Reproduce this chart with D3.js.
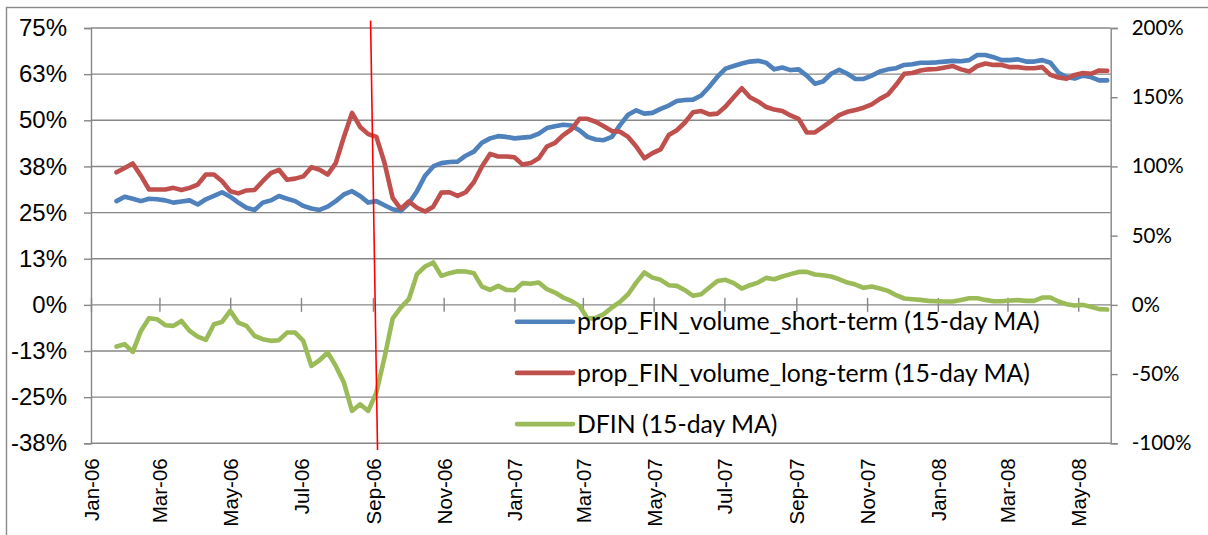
<!DOCTYPE html>
<html><head><meta charset="utf-8">
<script src="https://cdn.jsdelivr.net/npm/d3@7"></script>
<style>body{margin:0;background:#fff} svg{display:block}</style>
</head><body><svg id="chart" width="1208" height="535"></svg>
<script>
const dates = [
"2006-01-23","2006-01-30","2006-02-06","2006-02-13","2006-02-20","2006-02-27","2006-03-06","2006-03-13","2006-03-20","2006-03-27",
"2006-04-03","2006-04-10","2006-04-17","2006-04-24","2006-05-01","2006-05-08","2006-05-15","2006-05-22","2006-05-29","2006-06-05",
"2006-06-12","2006-06-19","2006-06-26","2006-07-03","2006-07-10","2006-07-17","2006-07-24","2006-07-31","2006-08-07","2006-08-14",
"2006-08-21","2006-08-28","2006-09-04","2006-09-11","2006-09-18","2006-09-25","2006-10-02","2006-10-09","2006-10-16","2006-10-23",
"2006-10-30","2006-11-06","2006-11-13","2006-11-20","2006-11-27","2006-12-04","2006-12-11","2006-12-18","2006-12-25","2007-01-01",
"2007-01-08","2007-01-15","2007-01-22","2007-01-29","2007-02-05","2007-02-12","2007-02-19","2007-02-26","2007-03-05","2007-03-12",
"2007-03-19","2007-03-26","2007-04-02","2007-04-09","2007-04-16","2007-04-23","2007-04-30","2007-05-07","2007-05-14","2007-05-21",
"2007-05-28","2007-06-04","2007-06-11","2007-06-18","2007-06-25","2007-07-02","2007-07-09","2007-07-16","2007-07-23","2007-07-30",
"2007-08-06","2007-08-13","2007-08-20","2007-08-27","2007-09-03","2007-09-10","2007-09-17","2007-09-24","2007-10-01","2007-10-08",
"2007-10-15","2007-10-22","2007-10-29","2007-11-05","2007-11-12","2007-11-19","2007-11-26","2007-12-03","2007-12-10","2007-12-17",
"2007-12-24","2007-12-31","2008-01-07","2008-01-14","2008-01-21","2008-01-28","2008-02-04","2008-02-11","2008-02-18","2008-02-25",
"2008-03-03","2008-03-10","2008-03-17","2008-03-24","2008-03-31","2008-04-07","2008-04-14","2008-04-21","2008-04-28","2008-05-05",
"2008-05-12","2008-05-19","2008-05-26"];

// prop_FIN_volume_short-term (15-day MA), % (left axis)
const shortTerm = [
28.1,29.3,28.75,28.1,28.75,28.6,28.3,27.7,28.0,28.3,
27.2,28.6,29.5,30.5,29.3,27.7,26.3,25.7,27.7,28.3,
29.5,28.75,28.1,26.8,26.1,25.7,26.6,28.1,29.9,30.8,
29.5,27.7,28.1,27.0,25.9,25.4,27.5,30.8,35.0,37.5,
38.4,38.7,38.8,40.4,41.5,43.9,45.1,45.7,45.5,45.1,
45.3,45.5,46.4,47.9,48.4,48.8,48.6,47.3,45.5,44.8,
44.6,45.5,48.7,51.5,52.7,51.8,52.0,53.1,54.0,55.2,
55.5,55.6,56.7,59.1,61.8,64.0,64.7,65.4,65.9,66.1,
65.6,63.8,64.3,63.6,63.8,62.1,59.9,60.5,62.6,63.7,
62.6,61.2,61.2,62.1,63.2,63.8,64.1,65.0,65.2,65.6,
65.6,65.7,65.9,66.1,66.0,66.3,67.7,67.7,67.1,66.3,
66.3,66.5,65.9,65.9,66.3,65.6,62.9,61.7,61.3,62.1,
61.7,60.8,60.8];

// prop_FIN_volume_long-term (15-day MA), % (left axis)
const longTerm = [
35.9,37.1,38.3,35.0,31.25,31.25,31.25,31.7,31.1,31.7,
32.6,35.3,35.3,33.5,30.8,30.2,31.0,31.1,33.5,35.7,
36.6,33.9,34.2,34.8,37.3,36.6,35.3,38.4,45.5,52.0,
48.2,46.25,45.5,38.5,29.0,26.0,28.0,26.3,25.3,26.6,
30.4,30.5,29.5,30.5,33.2,37.5,40.9,40.2,40.2,40.0,
38.0,38.4,39.7,42.9,43.9,46.0,47.5,50.4,50.4,49.6,
48.4,47.1,46.9,45.5,42.9,39.7,41.1,42.1,46.0,47.3,
49.4,52.2,52.5,51.6,51.8,53.75,56.25,58.7,56.25,55.1,
53.6,52.9,52.5,51.3,50.4,46.7,46.7,48.2,49.8,51.4,
52.3,52.8,53.4,54.3,55.8,57.0,59.6,62.6,62.8,63.5,
63.8,63.9,64.3,64.7,63.8,63.2,64.7,65.4,65.0,65.0,
64.4,64.4,64.1,64.1,64.4,62.3,61.6,61.25,62.3,62.8,
62.6,63.5,63.4];

// DFIN (15-day MA), % (right axis)
const dfin = [
-30.1,-28.4,-34.0,-18.8,-9.6,-10.4,-14.7,-15.2,-11.6,-18.8,
-22.9,-25.3,-14.0,-12.3,-4.3,-12.8,-15.2,-22.4,-24.8,-26.0,
-25.5,-20.0,-20.0,-26.0,-44.1,-40.0,-34.4,-44.1,-56.1,-76.6,
-71.8,-76.6,-63.3,-38.0,-10.0,-2.0,4.1,22.2,27.7,30.6,
20.9,22.9,24.3,24.1,22.9,13.2,10.8,13.7,10.8,10.6,
15.7,15.2,16.1,11.3,8.9,5.3,2.9,-0.7,-9.9,-9.6,
-6.7,-1.9,2.2,7.7,16.1,23.4,19.7,18.1,14.2,13.7,
10.6,6.5,7.7,12.5,17.3,18.1,15.7,11.8,14.2,16.1,
19.5,18.5,20.5,22.2,23.8,23.8,21.9,21.4,20.5,18.5,
16.1,14.7,12.3,13.2,11.8,10.1,7.0,4.6,4.1,3.6,
2.9,2.6,2.4,2.4,3.6,4.8,4.8,3.6,2.6,2.6,
3.1,3.4,2.9,2.9,5.3,5.3,2.4,0.5,-0.5,0.0,
-1.4,-3.1,-3.4];

const leftTicks = [75, 62.5, 50, 37.5, 25, 12.5, 0, -12.5, -25, -37.5];
const leftTickLabels = ["75%","63%","50%","38%","25%","13%","0%","-13%","-25%","-38%"];
const rightTicks = [200, 150, 100, 50, 0, -50, -100];
const rightTickLabels = ["200%","150%","100%","50%","0%","-50%","-100%"];
const monthTicks = ["2006-01-01","2006-03-01","2006-05-01","2006-07-01","2006-09-01","2006-11-01",
  "2007-01-01","2007-03-01","2007-05-01","2007-07-01","2007-09-01","2007-11-01",
  "2008-01-01","2008-03-01","2008-05-01"];
const monthTickLabels = ["Jan-06","Mar-06","May-06","Jul-06","Sep-06","Nov-06",
  "Jan-07","Mar-07","May-07","Jul-07","Sep-07","Nov-07","Jan-08","Mar-08","May-08"];
const seriesNames = ["prop_FIN_volume_short-term (15-day MA)","prop_FIN_volume_long-term (15-day MA)","DFIN (15-day MA)"];
const seriesColors = ["#4F81BD","#C0504D","#9BBB59"];
// red annotation line (date, left-axis %)
const markerDates = ["2006-08-30","2006-09-05"];
const markerValues = [77, -39.3];
const xDomain = ["2006-01-01","2008-05-29"];
const leftDomain = [-37.5, 75];
const rightDomain = [-100, 200];

const parse = d3.utcParse("%Y-%m-%d");
const svg = d3.select("#chart");
const W = 1208, H = 535;
const plot = {left: 91, right: 1110.7, top: 28, bottom: 443.3};
const gridColor = "#878787";

const x = d3.scaleUtc().domain(xDomain.map(parse)).range([plot.left, plot.right]);
const yL = d3.scaleLinear().domain(leftDomain).range([plot.bottom, plot.top]);
const yR = d3.scaleLinear().domain(rightDomain).range([plot.bottom, plot.top]);

// outer chart frame
svg.append("rect").attr("x", 6.5).attr("y", 7.5).attr("width", W + 10).attr("height", H + 10)
  .attr("fill", "#fff").attr("stroke", "#8a8a8a").attr("stroke-width", 1.4);

// gridlines
svg.append("g").selectAll("line").data(leftTicks).join("line")
  .attr("x1", plot.left).attr("x2", plot.right)
  .attr("y1", d => yL(d)).attr("y2", d => yL(d))
  .attr("stroke", gridColor).attr("stroke-width", 1.4);

// left axis
const gL = svg.append("g").attr("transform", `translate(${plot.left},0)`)
  .call(d3.axisLeft(yL).tickValues(leftTicks).tickSize(7).tickPadding(17)
    .tickFormat((d, i) => leftTickLabels[i]));
gL.select(".domain").attr("stroke", gridColor).attr("stroke-width", 1.4);
gL.selectAll(".tick line").attr("stroke", gridColor).attr("stroke-width", 1.4);
gL.selectAll("text").attr("font-family", "Liberation Sans, Arial, sans-serif").attr("font-size", 24).attr("fill", "#000");

// right axis
const gR = svg.append("g").attr("transform", `translate(${plot.right},0)`)
  .call(d3.axisRight(yR).tickValues(rightTicks).tickSize(7).tickPadding(14)
    .tickFormat((d, i) => rightTickLabels[i]));
gR.select(".domain").attr("stroke", gridColor).attr("stroke-width", 1.4);
gR.selectAll(".tick line").attr("stroke", gridColor).attr("stroke-width", 1.4);
gR.selectAll("text").attr("font-family", "Lato, sans-serif").attr("font-size", 20.5).attr("fill", "#000");

// x tick marks crossing the zero line
const monthDates = monthTicks.map(parse);
const gX = svg.append("g").attr("transform", `translate(0,${yL(0) - 7})`)
  .call(d3.axisBottom(x).tickValues(monthDates).tickSize(14).tickFormat(""));
gX.select(".domain").remove();
gX.selectAll(".tick line").attr("stroke", gridColor).attr("stroke-width", 1.4);

// x tick labels below plot, rotated
const gXL = svg.append("g").attr("transform", `translate(0,${plot.bottom})`)
  .call(d3.axisBottom(x).tickValues(monthDates).tickSize(0)
    .tickFormat((d, i) => monthTickLabels[i]));
gXL.select(".domain").remove();
gXL.selectAll("text")
  .attr("font-family", "Liberation Sans, Arial, sans-serif").attr("font-size", 20.5).attr("fill", "#000")
  .attr("transform", "rotate(-90)").attr("text-anchor", "end")
  .attr("x", -15).attr("y", 0).attr("dy", "0.36em");

// series
const pts = dates.map(parse);
const lineL = d3.line().x((d, i) => x(pts[i])).y(d => yL(d));
const lineR = d3.line().x((d, i) => x(pts[i])).y(d => yR(d));
const seriesPaths = [
  {vals: shortTerm, gen: lineL},
  {vals: longTerm, gen: lineL},
  {vals: dfin, gen: lineR}
];
seriesPaths.forEach((s, i) => {
  svg.append("path").attr("d", s.gen(s.vals)).attr("fill", "none")
    .attr("stroke", seriesColors[i]).attr("stroke-width", 4.6)
    .attr("stroke-linejoin", "round").attr("stroke-linecap", "round");
});

// legend
const legendX = 517, legendY0 = 321.7, legendStep = 51.2;
const leg = svg.append("g");
seriesNames.forEach((name, i) => {
  const yy = legendY0 + i * legendStep;
  leg.append("line").attr("x1", legendX).attr("x2", legendX + 56)
    .attr("y1", yy).attr("y2", yy)
    .attr("stroke", seriesColors[i]).attr("stroke-width", 4.6).attr("stroke-linecap", "round");
  leg.append("text").attr("class", "legtxt").attr("x", legendX + 60).attr("y", yy).attr("dy", "0.35em")
    .attr("font-family", "Lato, sans-serif").attr("font-size", 23.5).attr("fill", "#000").text(name);
});
// fit legend text size to the reference width of the first entry
const firstLen = leg.select(".legtxt").node().getComputedTextLength();
const fs = 23.5 * 463 / firstLen;
leg.selectAll(".legtxt").attr("font-size", fs);

// red annotation line
svg.append("line")
  .attr("x1", x(parse(markerDates[0]))).attr("y1", yL(markerValues[0]))
  .attr("x2", x(parse(markerDates[1]))).attr("y2", yL(markerValues[1]))
  .attr("stroke", "#FF0000").attr("stroke-width", 1.6);
</script>
</body></html>
